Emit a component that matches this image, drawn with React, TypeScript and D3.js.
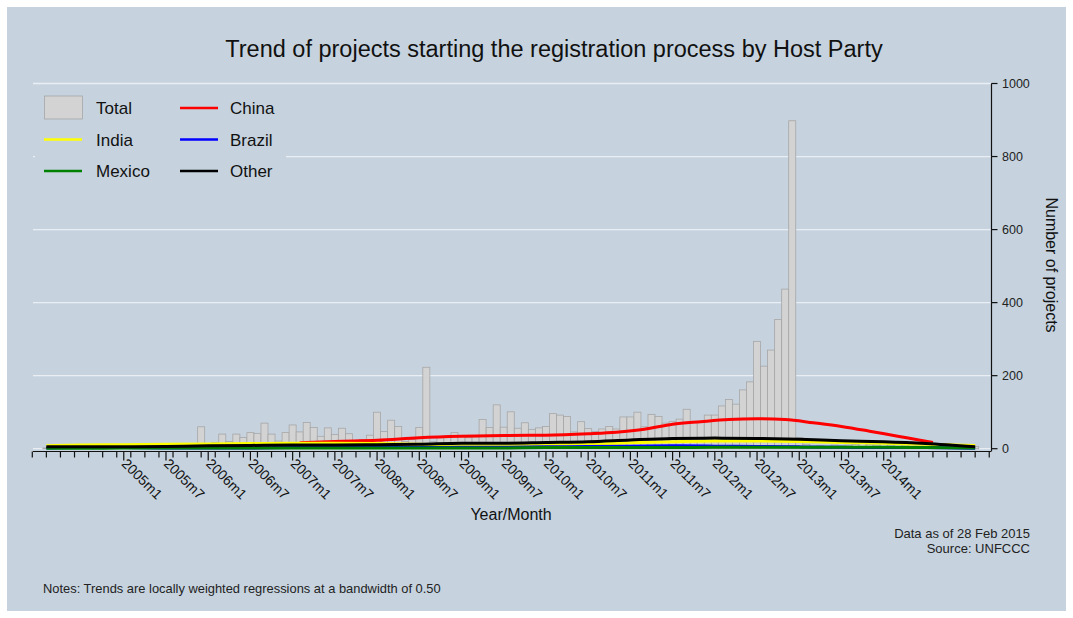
import React from "react";
import * as d3 from "d3";

// monthly totals, first bar is 2004m2
const firstMonth = "2004m2";
const totalProjects = [
  2, 1, 3, 2, 4, 3, 2, 5, 3, 4, 6,
  5, 4, 6, 8, 5, 7, 6, 9, 8, 10, 12,
  60, 5, 17, 40, 20, 40, 31, 44, 42, 70, 40, 21, 44, 65, 46, 72, 58, 34, 57, 39, 56, 41,
  18, 25, 37, 100, 47, 78, 61, 20, 25, 58, 223, 19, 30, 35, 44, 35, 30, 32, 80, 58, 120,
  59, 101, 56, 71, 53, 57, 61, 96, 92, 88, 46, 74, 55, 47,
  54, 61, 54, 87, 87, 100, 60, 94, 88, 70, 74, 81, 108, 74, 73, 92, 92, 117, 135, 122,
  161, 183, 294, 226, 270, 354, 437, 898, 30,
  12, 5, 8, 6, 10, 8, 10, 12, 15, 12, 10, 18, 10, 12, 8, 10, 8, 10, 8, 10, 14, 10, 6, 4, 6,
];

// lowess trends
const trendMonths = [
  "2004m2", "2004m7", "2005m1", "2005m7", "2006m1", "2006m7", "2007m1", "2007m7",
  "2008m1", "2008m7", "2009m1", "2009m7", "2010m1", "2010m7", "2011m1", "2011m7",
  "2012m1", "2012m7", "2013m1", "2013m7", "2014m1", "2014m7", "2015m2",
];
const indiaTrend = [8, 10, 11, 12, 13, 14, 15, 15, 14, 12, 10, 10, 11, 13, 16, 19, 21, 21, 20, 17, 15, 12, 9];
const brazilTrend = [2, 3, 3, 2, 2, 2, 3, 3, 3, 3, 4, 4, 5, 6, 7, 8, 7, 6, 5, 4, 3, 3, 1];
const mexicoTrend = [1, 1, 2, 2, 2, 2, 2, 2, 2, 2, 2, 2, 3, 3, 3, 3, 4, 4, 4, 4, 4, 3, 2];
const otherTrend = [5, 5, 5, 6, 8, 9, 10, 10, 11, 12, 15, 15, 17, 19, 24, 28, 29, 28, 26, 22, 19, 14, 5];

const chinaMonths = [
  "2007m2", "2007m7", "2008m1", "2008m7", "2009m1", "2009m7", "2010m1", "2010m7",
  "2010m11", "2011m3", "2011m7", "2011m11", "2012m3", "2012m7", "2012m11", "2013m3",
  "2013m7", "2013m11", "2014m3", "2014m6", "2014m8",
];
const chinaTrend = [16, 20, 23, 30, 34, 36, 37, 41, 45, 53, 67, 74, 80, 82, 80, 71, 61, 48, 34, 24, 17];

const majorTickLabels = [
  "2005m1", "2005m7", "2006m1", "2006m7", "2007m1", "2007m7", "2008m1", "2008m7", "2009m1",
  "2009m7", "2010m1", "2010m7", "2011m1", "2011m7", "2012m1", "2012m7", "2013m1", "2013m7", "2014m1",
];
const yTicks = [0, 200, 400, 600, 800, 1000];

const legendItems = [
  { name: "China", color: "#ff0000", col: 1, row: 0 },
  { name: "India", color: "#ffff00", col: 0, row: 1 },
  { name: "Brazil", color: "#0000ff", col: 1, row: 1 },
  { name: "Mexico", color: "#008000", col: 0, row: 2 },
  { name: "Other", color: "#000000", col: 1, row: 2 },
];

const monthIndex = (s: string) => {
  const [y, m] = s.split("m").map(Number);
  return (y - 2005) * 12 + (m - 1);
};

const font = "'Liberation Sans', Arial, Helvetica, sans-serif";
const bg = "#c6d3df";

export default function App() {
  const x = d3.scaleLinear().domain([-12.9, 123.25]).range([33, 991]);
  const y = d3.scaleLinear().domain([0, 1000]).range([448.7, 83.5]);
  const bw = x(1) - x(0);
  const start = monthIndex(firstMonth);

  const line = d3
    .line<[number, number]>()
    .x((d) => x(d[0]))
    .y((d) => y(d[1]))
    .curve(d3.curveMonotoneX);

  const series = [
    { color: "#ff0000", pts: chinaMonths.map((m, i) => [monthIndex(m), chinaTrend[i]] as [number, number]) },
    { color: "#ffff00", pts: trendMonths.map((m, i) => [monthIndex(m), indiaTrend[i]] as [number, number]) },
    { color: "#0000ff", pts: trendMonths.map((m, i) => [monthIndex(m), brazilTrend[i]] as [number, number]) },
    { color: "#008000", pts: trendMonths.map((m, i) => [monthIndex(m), mexicoTrend[i]] as [number, number]) },
    { color: "#000000", pts: trendMonths.map((m, i) => [monthIndex(m), otherTrend[i]] as [number, number]) },
  ];

  const minorTicks = d3.range(-13, 124, 2);
  const axisY = 451.5;

  return (
    <svg width={1073} height={618} style={{ position: "absolute", left: 0, top: 0 }} fontFamily={font}>
      <rect width={1073} height={618} fill="#ffffff" />
      <rect x={7} y={7} width={1059} height={604} fill={bg} />

      <text x={554} y={57} textAnchor="middle" fontSize={23.5} fill="#111">
        Trend of projects starting the registration process by Host Party
      </text>

      {yTicks.map((v) => (
        <line key={v} x1={33} x2={991} y1={y(v)} y2={y(v)} stroke="#e9eef4" strokeWidth={1.3} />
      ))}

      {totalProjects.map((v, i) => {
        const t = start + i;
        return (
          <rect
            key={i}
            x={x(t) - bw / 2}
            y={y(v)}
            width={bw}
            height={y(0) - y(v)}
            fill="#d3d3d3"
            stroke="#a6a6a6"
            strokeWidth={0.8}
          />
        );
      })}

      {series.map((s, i) => (
        <path key={i} d={line(s.pts) || ""} fill="none" stroke={s.color} strokeWidth={3} />
      ))}

      {/* legend */}
      <rect x={35} y={88} width={251} height={98} fill={bg} />
      <rect x={44.5} y={96} width={38} height={23} fill="#d3d3d3" stroke="#a6a6a6" strokeWidth={0.8} />
      <text x={96} y={114} fontSize={17} fill="#111">Total</text>
      {legendItems.map((d) => {
        const lx = d.col === 0 ? 44 : 180;
        const ly = 108 + d.row * 31.5;
        return (
          <g key={d.name}>
            <line x1={lx} x2={lx + 38} y1={ly} y2={ly} stroke={d.color} strokeWidth={2.5} />
            <text x={lx + (d.col === 0 ? 52 : 50)} y={ly + 6} fontSize={17} fill="#111">
              {d.name}
            </text>
          </g>
        );
      })}

      {/* x axis */}
      <line x1={33} x2={991} y1={axisY} y2={axisY} stroke="#111" strokeWidth={1.2} />
      {minorTicks.map((t) => (
        <line key={t} x1={x(t)} x2={x(t)} y1={axisY} y2={axisY + 6} stroke="#111" strokeWidth={1.2} />
      ))}
      {majorTickLabels.map((lab) => {
        const px = x(monthIndex(lab));
        return (
          <g key={lab}>
            <line x1={px} x2={px} y1={axisY} y2={axisY + 9} stroke="#111" strokeWidth={1.2} />
            <text
              transform={`translate(${px - 3},${axisY + 13}) rotate(45)`}
              fontSize={14}
              fill="#111"
            >
              {lab}
            </text>
          </g>
        );
      })}
      <text x={511} y={520} textAnchor="middle" fontSize={16} fill="#111">
        Year/Month
      </text>

      {/* right y axis */}
      <line x1={991.5} x2={991.5} y1={y(1000)} y2={axisY} stroke="#111" strokeWidth={1.2} />
      {yTicks.map((v) => (
        <g key={v}>
          <line x1={991.5} x2={997.5} y1={y(v)} y2={y(v)} stroke="#111" strokeWidth={1.2} />
          <text x={1002} y={y(v) + 4.5} fontSize={12.5} fill="#222">
            {v}
          </text>
        </g>
      ))}
      <text
        transform="translate(1046,265) rotate(90)"
        textAnchor="middle"
        fontSize={16}
        fill="#111"
      >
        Number of projects
      </text>

      <text x={1030} y={538} textAnchor="end" fontSize={13} fill="#222">
        Data as of 28 Feb 2015
      </text>
      <text x={1030} y={553} textAnchor="end" fontSize={13} fill="#222">
        Source: UNFCCC
      </text>
      <text x={43} y={593} fontSize={12.9} fill="#222">
        Notes: Trends are locally weighted regressions at a bandwidth of 0.50
      </text>
    </svg>
  );
}
